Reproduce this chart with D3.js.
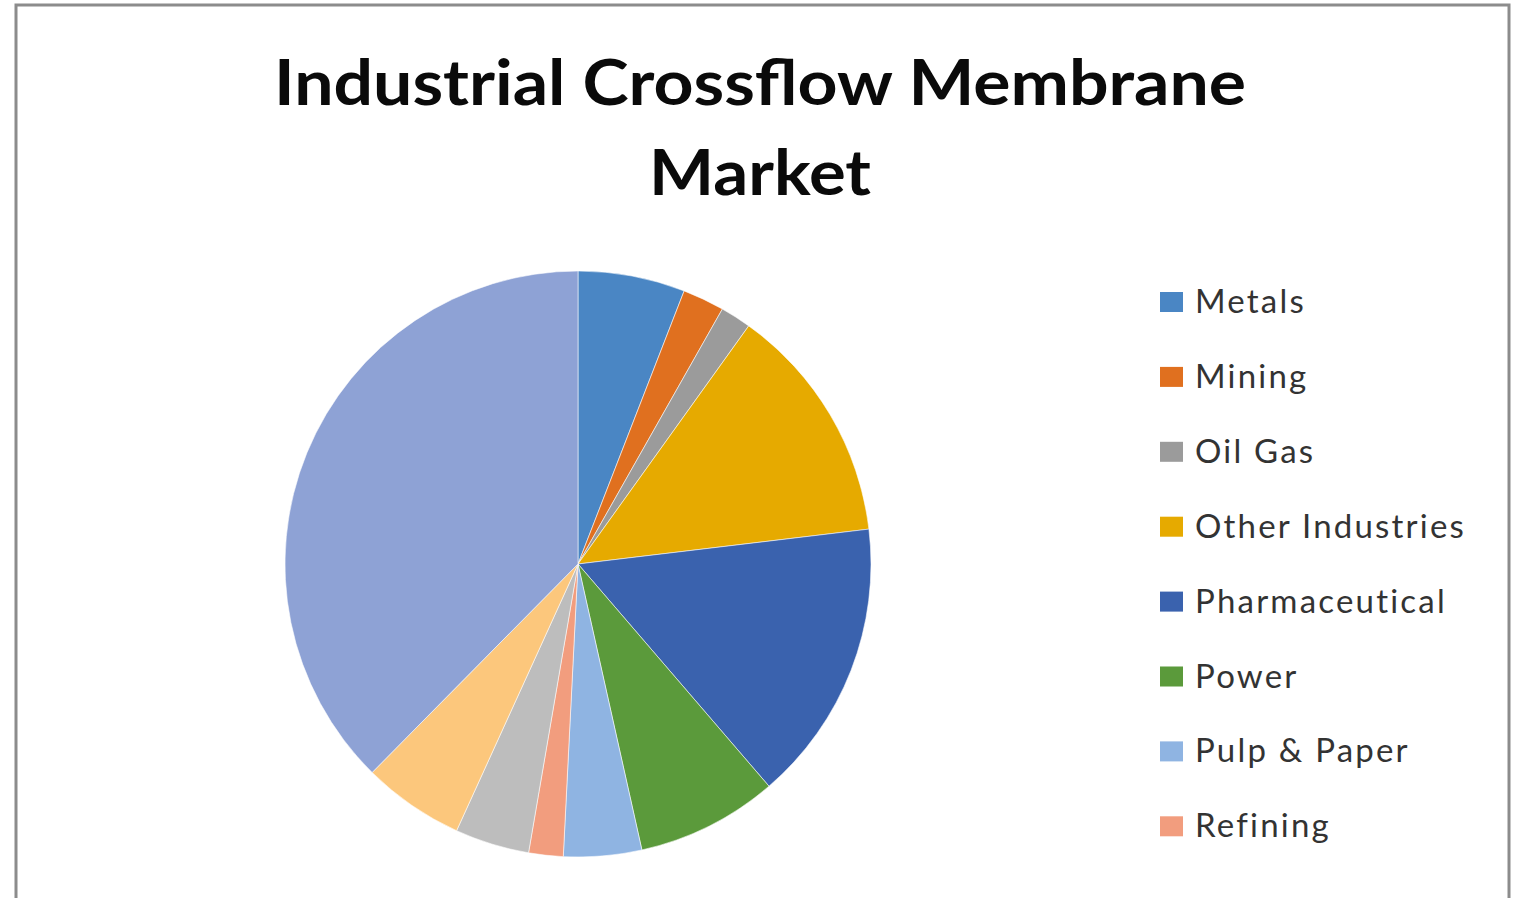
<!DOCTYPE html>
<html>
<head>
<meta charset="utf-8">
<script src="https://cdn.jsdelivr.net/npm/d3@7"></script>
<style>
  html, body { margin: 0; padding: 0; background: #fff; }
  svg { display: block; }
</style>
</head>
<body>
<svg id="chart" width="1516" height="898"></svg>
<script>
// Market share by end-use segment (%), in drawing order clockwise from 12 o'clock
const categories = [
  "Metals", "Mining", "Oil Gas", "Other Industries", "Pharmaceutical",
  "Power", "Pulp & Paper", "Refining", "Semiconductor", "Textiles", "Water & Wastewater"
];
const shares = [5.9, 2.3, 1.7, 13.2, 15.6, 7.8, 4.3, 1.9, 4.1, 5.6, 37.6];
const sliceColors = [
  "#4A86C4", "#E0701F", "#9B9B9B", "#E6AA00", "#3A62AE",
  "#5B9A3B", "#8FB4E2", "#F29D7E", "#BDBDBD", "#FCC77C", "#8EA2D5"
];
// The legend box only has room for the first eight entries
const legendCount = 8;
const titleLines = ["Industrial Crossflow Membrane", "Market"];

const svg = d3.select("#chart");
const W = 1516, H = 898;

// chart area frame (runs past the bottom edge)
svg.append("rect")
  .attr("x", 16).attr("y", 5)
  .attr("width", 1493).attr("height", H + 20)
  .attr("fill", "#fff")
  .attr("stroke", "#8c8c8c")
  .attr("stroke-width", 3);

// title
const titleWidths = [972, 222];
const titleBase = [105, 195];
svg.append("g").selectAll("text")
  .data(titleLines)
  .join("text")
  .attr("x", 760)
  .attr("y", (d, i) => titleBase[i])
  .attr("text-anchor", "middle")
  .attr("font-family", "Lato, 'Open Sans', sans-serif")
  .attr("font-weight", 700)
  .attr("font-size", 63)
  .attr("fill", "#0a0a0a")
  .attr("textLength", (d, i) => titleWidths[i])
  .attr("lengthAdjust", "spacingAndGlyphs")
  .text(d => d);

// pie
const data = categories.map((c, i) => ({ name: c, value: shares[i], color: sliceColors[i] }));
const cx = 578, cy = 564, r = 293;
const pie = d3.pie().value(d => d.value).sort(null);
const arc = d3.arc().innerRadius(0).outerRadius(r);

svg.append("g")
  .attr("transform", `translate(${cx},${cy})`)
  .selectAll("path")
  .data(pie(data))
  .join("path")
  .attr("d", arc)
  .attr("fill", d => d.data.color)
  .attr("stroke", "#ffffff")
  .attr("stroke-opacity", 0.55)
  .attr("stroke-width", 1);

// legend
const legendData = data.slice(0, legendCount);
const ly = d3.scalePoint()
  .domain(legendData.map(d => d.name))
  .range([313, 313 + 74.9 * (legendCount - 1)]);

const legend = svg.append("g");
const item = legend.selectAll("g")
  .data(legendData)
  .join("g")
  .attr("transform", d => `translate(1160,${ly(d.name)})`);

item.append("rect")
  .attr("x", 0).attr("y", -21)
  .attr("width", 23).attr("height", 20)
  .attr("fill", d => d.color);

item.append("text")
  .attr("x", 35).attr("y", 0)
  .attr("font-family", "Lato, 'Open Sans', sans-serif")
  .attr("font-size", 33)
  .attr("letter-spacing", 2.2)
  .attr("fill", "#333")
  .text(d => d.name);
</script>
</body>
</html>
